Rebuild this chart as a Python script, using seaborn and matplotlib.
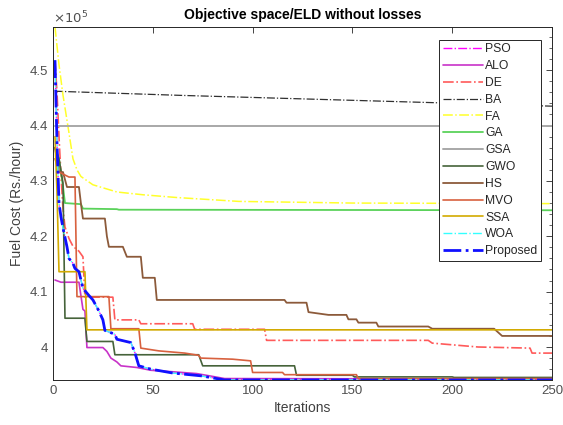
import matplotlib
matplotlib.use("Agg")
import matplotlib.pyplot as plt
import matplotlib.ticker as mticker
import seaborn as sns
import pandas as pd

# ---------------- data ----------------
methods = ["PSO", "ALO", "DE", "BA", "FA", "GA", "GSA", "GWO", "HS", "MVO", "SSA", "WOA", "Proposed"]

pso_it = [1, 2, 3, 4, 5, 7, 8, 10, 11, 13, 15, 18, 20, 23, 25, 26, 31, 32, 39, 41, 43, 49, 60, 74, 86, 250]
pso_val = [451500, 437000, 426000, 423500, 421500, 418100, 416000, 415100, 414200, 413600, 410600, 409300, 408500, 406500, 404900, 403000, 402300, 401400, 400800, 399000, 396600, 396000, 395300, 394800, 394100, 394100]

alo_it = [1, 4, 13, 15, 16, 17, 25, 27, 29, 32, 34, 42, 49, 61, 72, 86, 250]
alo_val = [412100, 411700, 411700, 406800, 406500, 399900, 399900, 399200, 398000, 397300, 396600, 396300, 395800, 395500, 395200, 394300, 394200]

de_it = [1, 2, 3, 4, 5, 6, 8, 10, 13, 15, 16, 30, 31, 43, 44, 70, 71, 106, 107, 188, 190, 213, 239, 240, 250]
de_val = [451800, 446000, 438000, 431000, 425000, 421700, 419600, 418200, 417300, 416300, 409000, 409000, 404900, 404900, 404200, 404200, 403200, 403200, 401200, 401200, 400700, 400000, 399800, 398900, 398900]

ba_it = [1, 64, 194, 250]
ba_val = [446200, 445450, 444100, 443500]

fa_it = [1, 3, 5, 8, 10, 12, 14, 20, 32, 45, 62, 93, 150, 250]
fa_val = [457800, 451000, 445500, 438700, 434000, 432000, 430800, 429300, 428000, 427500, 427000, 426300, 426000, 425900]

ga_it = [1, 3, 5, 6, 14, 15, 32, 33, 250]
ga_val = [436000, 434000, 429000, 426000, 425800, 425000, 424900, 424800, 424700]

gsa_it = [1, 250]
gsa_val = [440000, 440000]

gwo_it = [1, 3, 5, 6, 16, 17, 30, 31, 73, 75, 121, 122, 150, 151, 200, 201, 250]
gwo_val = [436000, 434000, 429600, 405200, 405200, 401000, 401000, 398600, 398600, 396600, 396600, 394900, 394900, 394600, 394600, 394500, 394500]

hs_it = [1, 3, 5, 7, 13, 14, 15, 26, 27, 28, 35, 37, 44, 45, 51, 52, 116, 117, 127, 128, 138, 147, 148, 152, 153, 162, 163, 188, 190, 221, 225, 250]
hs_val = [436000, 431600, 431600, 428900, 428900, 425900, 423200, 423200, 420000, 418100, 418100, 416300, 416300, 412500, 412500, 408500, 408500, 408000, 408000, 406300, 405800, 405800, 405000, 405000, 404400, 404400, 403700, 403700, 403300, 403300, 402000, 402000]

mvo_it = [1, 3, 8, 11, 12, 28, 29, 43, 44, 53, 66, 73, 74, 90, 99, 100, 115, 116, 152, 153, 250]
mvo_val = [434000, 431600, 430700, 430700, 409100, 409100, 403300, 403300, 399800, 399300, 398900, 398500, 398000, 397800, 397500, 395400, 395400, 395000, 395000, 394300, 394300]

ssa_it = [1, 2, 3, 16, 17, 250]
ssa_val = [438000, 428000, 413600, 413600, 403100, 403100]

woa_it = [1, 2, 3, 4, 5, 7, 8, 10, 11, 13, 15, 18, 20, 23, 25, 26, 31, 32, 39, 41, 43, 49, 60, 74, 86, 250]
woa_val = [451800, 437000, 426000, 423500, 421500, 418100, 416000, 415100, 414200, 413600, 410600, 409300, 408500, 406500, 404900, 403000, 402300, 401400, 400800, 399000, 396600, 396000, 395300, 394800, 394050, 394050]

prop_it = [1, 2, 3, 4, 5, 7, 8, 10, 11, 13, 15, 18, 20, 23, 25, 26, 31, 32, 39, 41, 43, 49, 60, 74, 86, 250]
prop_val = [451800, 437000, 426000, 423500, 421500, 418100, 416000, 415100, 414200, 413600, 410600, 409300, 408500, 406500, 404900, 403000, 402300, 401400, 400800, 399000, 396600, 396000, 395300, 394800, 394050, 394050]

y_ticks = [400000, 410000, 420000, 430000, 440000, 450000]
y_tick_labels = ["4", "4.1", "4.2", "4.3", "4.4", "4.5"]
x_ticks = [0, 50, 100, 150, 200, 250]

series = {
    "PSO": (pso_it, pso_val), "ALO": (alo_it, alo_val), "DE": (de_it, de_val),
    "BA": (ba_it, ba_val), "FA": (fa_it, fa_val), "GA": (ga_it, ga_val),
    "GSA": (gsa_it, gsa_val), "GWO": (gwo_it, gwo_val), "HS": (hs_it, hs_val),
    "MVO": (mvo_it, mvo_val), "SSA": (ssa_it, ssa_val), "WOA": (woa_it, woa_val),
    "Proposed": (prop_it, prop_val),
}

styles = {
    "PSO": dict(color="#ff00ff", linestyle="-.", linewidth=1.0),
    "ALO": dict(color="#c832c8", linestyle="-", linewidth=1.2),
    "DE": dict(color="#ff5a5a", linestyle="-.", linewidth=1.2),
    "BA": dict(color="#303030", linestyle="-.", linewidth=0.9),
    "FA": dict(color="#ffff2a", linestyle="-.", linewidth=1.1),
    "GA": dict(color="#5ad25a", linestyle="-", linewidth=1.3),
    "GSA": dict(color="#a8a8a8", linestyle="-", linewidth=1.4),
    "GWO": dict(color="#46633a", linestyle="-", linewidth=1.2),
    "HS": dict(color="#8c5a3a", linestyle="-", linewidth=1.3),
    "MVO": dict(color="#d8613f", linestyle="-", linewidth=1.2),
    "SSA": dict(color="#d2aa00", linestyle="-", linewidth=1.2),
    "WOA": dict(color="#33ffff", linestyle="-.", linewidth=1.0),
    "Proposed": dict(color="#1010ff", linestyle="-.", linewidth=2.0),
}

# ---------------- plotting ----------------
sns.set_theme(style="white")
plt.rcParams["font.family"] = ["Liberation Sans", "DejaVu Sans"]

fig = plt.figure(figsize=(5.63, 4.25), dpi=100)
ax = fig.add_axes([53 / 563, 1 - 380 / 425, (552 - 53) / 563, (380 - 27) / 425])

for name in methods:
    it, val = series[name]
    df = pd.DataFrame({"Iterations": it, "Cost": val})
    sns.lineplot(data=df, x="Iterations", y="Cost", ax=ax, sort=False,
                 estimator=None, label=name, **styles[name])

ax.set_xlim(0, 250)
ax.set_ylim(394040, 457800)
ax.set_xticks(x_ticks)
ax.set_yticks(y_ticks)
ax.set_yticklabels(y_tick_labels)
ax.yaxis.set_minor_locator(mticker.MultipleLocator(2000))
ax.tick_params(axis="both", which="both", direction="in", top=True, right=True,
               colors="#262626", labelcolor="#505050", labelsize=9.5)
ax.tick_params(axis="both", which="major", length=4, width=0.6)
ax.tick_params(axis="y", which="minor", length=2.5, width=0.5)
for s in ax.spines.values():
    s.set_color("#262626")
    s.set_linewidth(0.7)

ax.set_xlabel("Iterations", fontsize=10, color="#404040", labelpad=3)
ax.set_ylabel("Fuel Cost (Rs./hour)", fontsize=10, color="#404040", labelpad=4)
ax.set_title("Objective space/ELD without losses", fontsize=10, fontweight="bold",
             color="black", pad=6)
ax.text(0.0, 1.003, r"$\times10^5$", transform=ax.transAxes, fontsize=9.5,
        color="#505050", va="bottom", ha="left")

leg = ax.legend(loc="upper right", bbox_to_anchor=(0.978, 0.964), fontsize=8.7,
                frameon=True, fancybox=False, framealpha=1, edgecolor="#262626",
                handlelength=3.3, handletextpad=0.2, labelspacing=0.4,
                borderpad=0.3, borderaxespad=0.0)
leg.get_frame().set_linewidth(0.7)

fig.savefig("out.png", dpi=100)
